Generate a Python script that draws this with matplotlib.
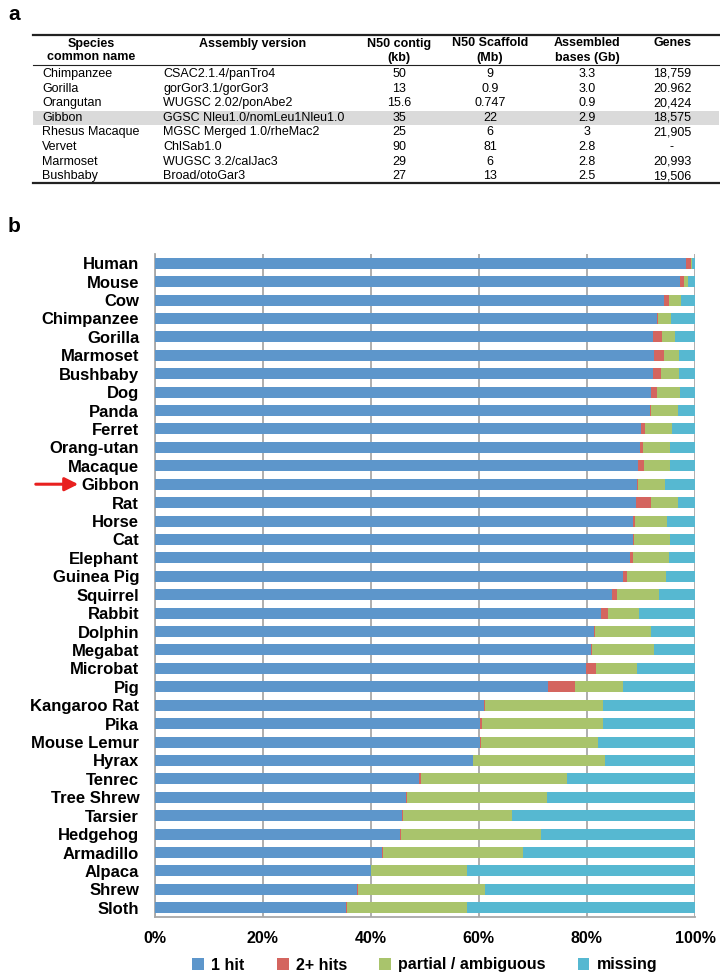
import matplotlib
matplotlib.use("Agg")
import matplotlib.pyplot as plt
from matplotlib.patches import Patch, Rectangle
import numpy as np

plt.rcParams['font.family'] = ['Liberation Sans', 'DejaVu Sans']

# ---------------- Table data (panel a) ----------------
table_header1 = ["Species", "Assembly version", "N50 contig", "N50 Scaffold", "Assembled", "Genes"]
table_header2 = ["common name", "", "(kb)", "(Mb)", "bases (Gb)", ""]
tbl_species = ["Chimpanzee", "Gorilla", "Orangutan", "Gibbon", "Rhesus Macaque", "Vervet", "Marmoset", "Bushbaby"]
tbl_assembly = ["CSAC2.1.4/panTro4", "gorGor3.1/gorGor3", "WUGSC 2.02/ponAbe2", "GGSC Nleu1.0/nomLeu1Nleu1.0",
                "MGSC Merged 1.0/rheMac2", "ChlSab1.0", "WUGSC 3.2/calJac3", "Broad/otoGar3"]
tbl_contig = ["50", "13", "15.6", "35", "25", "90", "29", "27"]
tbl_scaffold = ["9", "0.9", "0.747", "22", "6", "81", "6", "13"]
tbl_bases = ["3.3", "3.0", "0.9", "2.9", "3", "2.8", "2.8", "2.5"]
tbl_genes = ["18,759", "20.962", "20,424", "18,575", "21,905", "-", "20,993", "19,506"]
highlight_species = "Gibbon"

# ---------------- Bar data (panel b) ----------------
species = ["Human", "Mouse", "Cow", "Chimpanzee", "Gorilla", "Marmoset", "Bushbaby", "Dog", "Panda",
           "Ferret", "Orang-utan", "Macaque", "Gibbon", "Rat", "Horse", "Cat", "Elephant", "Guinea Pig",
           "Squirrel", "Rabbit", "Dolphin", "Megabat", "Microbat", "Pig", "Kangaroo Rat", "Pika",
           "Mouse Lemur", "Hyrax", "Tenrec", "Tree Shrew", "Tarsier", "Hedgehog", "Armadillo", "Alpaca",
           "Shrew", "Sloth"]
one_hit = [98.3, 97.3, 94.3, 93.0, 92.3, 92.4, 92.2, 91.9, 91.7, 90.1, 89.9, 89.4, 89.2, 89.1, 88.6, 88.5,
           87.9, 86.7, 84.6, 82.6, 81.4, 80.8, 79.8, 72.8, 61.0, 60.3, 60.2, 58.9, 48.9, 46.5, 45.8, 45.4,
           42.1, 40.0, 37.4, 35.5]
two_hits = [1.0, 0.7, 0.8, 0.1, 1.6, 1.9, 1.5, 1.1, 0.2, 0.6, 0.4, 1.2, 0.3, 2.8, 0.3, 0.2, 0.6, 0.8,
            1.0, 1.3, 0.1, 0.2, 1.9, 5.0, 0.2, 0.2, 0.2, 0.1, 0.4, 0.2, 0.1, 0.2, 0.2, 0.1, 0.2, 0.2]
partial = [0.2, 0.7, 2.4, 2.4, 2.4, 2.7, 3.3, 4.2, 4.9, 5.1, 5.0, 4.7, 4.9, 4.9, 6.0, 6.6, 6.6, 7.1, 7.7,
           5.8, 10.3, 11.4, 7.5, 8.9, 21.7, 22.4, 21.6, 24.4, 27.0, 26.0, 20.3, 25.9, 25.8, 17.7, 23.6, 22.1]
missing = [100 - a - b - c for a, b, c in zip(one_hit, two_hits, partial)]

series_names = ["1 hit", "2+ hits", "partial / ambiguous", "missing"]
series_colors = ["#5D96CB", "#D4655F", "#A9C46C", "#56B8D1"]
xticks = [0, 20, 40, 60, 80, 100]
xtick_labels = ["0%", "20%", "40%", "60%", "80%", "100%"]

W, H = 720, 977
fig = plt.figure(figsize=(W / 100, H / 100), dpi=100)

# overlay in pixel coordinates for table and annotations
ov = fig.add_axes([0, 0, 1, 1])
ov.set_xlim(0, W)
ov.set_ylim(H, 0)
ov.axis("off")

ov.text(8, 15, "a", fontsize=15, fontweight="bold", va="center", ha="left")
ov.text(8, 227, "b", fontsize=15, fontweight="bold", va="center", ha="left")

tx0, tx1 = 33, 719
col_centers = [91, 253, 399, 490, 587, 672]
col_left = [42, 163]
row_y0, row_dy = 74, 14.6

# highlight band
hi = tbl_species.index(highlight_species)
ov.add_patch(Rectangle((tx0, row_y0 + hi * row_dy - 6.8), tx1 - tx0, 13.6,
                       facecolor="#DADADA", edgecolor="none", zorder=0))

ov.plot([tx0, tx1], [34.5, 34.5], color="#222222", lw=1.6)
ov.plot([tx0, tx1], [65, 65], color="#222222", lw=0.8)
ov.plot([tx0, tx1], [182.7, 182.7], color="#222222", lw=1.6)

for i, (h1, h2) in enumerate(zip(table_header1, table_header2)):
    ov.text(col_centers[i], 43.5, h1, fontsize=9, fontweight="bold", ha="center", va="center")
    if h2:
        ov.text(col_centers[i], 57.5, h2, fontsize=9, fontweight="bold", ha="center", va="center")

for r in range(len(tbl_species)):
    y = row_y0 + r * row_dy
    ov.text(col_left[0], y, tbl_species[r], fontsize=9, ha="left", va="center")
    ov.text(col_left[1], y, tbl_assembly[r], fontsize=9, ha="left", va="center")
    for c, col in zip(col_centers[2:], [tbl_contig, tbl_scaffold, tbl_bases, tbl_genes]):
        ov.text(c, y, col[r], fontsize=9, ha="center", va="center")

# ---------------- bar chart ----------------
ax_l, ax_r, ax_t, ax_b = 154.5, 695, 254, 917
ax = fig.add_axes([ax_l / W, 1 - ax_b / H, (ax_r - ax_l) / W, (ax_b - ax_t) / H])
ypos = np.arange(len(species))
left = np.zeros(len(species))
for vals, name, col in zip([one_hit, two_hits, partial, missing], series_names, series_colors):
    vals = np.array(vals)
    ax.barh(ypos, vals, left=left, height=0.6, color=col, label=name, zorder=3)
    left += vals

ax.set_xlim(0, 100)
ax.set_ylim(len(species) - 0.5, -0.5)
ax.set_yticks(ypos)
ax.set_yticklabels(species, fontsize=12, fontweight="bold")
ax.set_xticks(xticks)
ax.set_xticklabels(xtick_labels, fontsize=11.5, fontweight="bold")
ax.tick_params(axis="both", length=0, pad=10)
ax.tick_params(axis="y", pad=11)
ax.grid(axis="x", color="#A8A8A8", lw=1.3, zorder=0)
for s in ["top", "right"]:
    ax.spines[s].set_visible(False)
for s in ["left", "bottom"]:
    ax.spines[s].set_color("#A8A8A8")
    ax.spines[s].set_linewidth(1.3)

handles = [Patch(facecolor=c, edgecolor="none", label=n) for c, n in zip(series_colors, series_names)]
fig.legend(handles=handles, loc="center", bbox_to_anchor=((ax_l + ax_r) / 2 / W, 1 - 965 / H),
           ncol=4, frameon=False, prop={"size": 11.5, "weight": "bold"},
           handlelength=0.75, handleheight=0.75, handletextpad=0.45, columnspacing=2.0)

# red arrow pointing to Gibbon
gy = ax_t + (species.index("Gibbon") + 0.5) * (ax_b - ax_t) / len(species)
ov.annotate("", xy=(81, gy), xytext=(33, gy),
            arrowprops=dict(arrowstyle="-|>,head_length=0.8,head_width=0.4", color="#E8201F", lw=2.2))

fig.savefig("out.png", dpi=100)
